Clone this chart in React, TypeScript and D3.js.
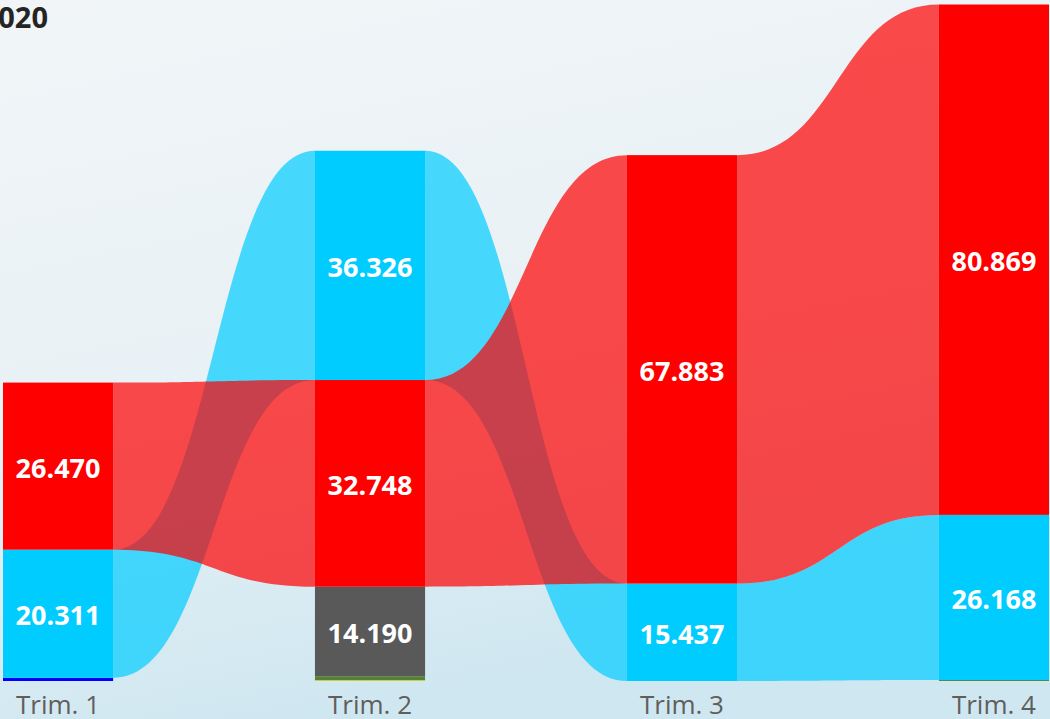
import React from "react";
import * as d3 from "d3";

const categories = ["Trim. 1", "Trim. 2", "Trim. 3", "Trim. 4"];
const rossoValues: (number | null)[] = [26470, 32748, 67883, 80869];
const azzurroValues: (number | null)[] = [20311, 36326, 15437, 26168];
const grigioValues: (number | null)[] = [null, 14190, null, null];
const bluValues: (number | null)[] = [500, null, null, null];
const verdeValues: (number | null)[] = [null, 600, null, 150];
const gialloValues: (number | null)[] = [null, 150, null, null];

const seriesNames = ["Azzurro", "Grigio", "Blu", "Verde", "Giallo", "Rosso"];
const seriesColors = ["#00ccff", "#595959", "#0000ff", "#548235", "#d6cc4a", "#ff0000"];
const seriesValues = [azzurroValues, grigioValues, bluValues, verdeValues, gialloValues, rossoValues];

const titleText = "2020";

const W = 1050;
const H = 719;

const fmt = d3.formatLocale({ decimal: ",", thousands: ".", grouping: [3], currency: ["€", ""] }).format(",");

export default function App() {
  const x = d3.scaleBand<string>().domain(categories).range([3, 1049]).paddingInner(0.647).paddingOuter(0);
  const y = d3.scaleLinear().domain([0, 107900]).range([681, 0]);
  const bw = x.bandwidth();

  type Seg = { s: number; v: number; y0: number; y1: number };
  const stacks: Map<number, Seg>[] = categories.map((_, ci) => {
    const items = seriesValues
      .map((vals, s) => ({ s, v: vals[ci] }))
      .filter((d) => d.v != null && (d.v as number) > 0) as { s: number; v: number }[];
    items.sort((a, b) => a.v - b.v);
    let acc = 0;
    const m = new Map<number, Seg>();
    items.forEach((it) => {
      const y0 = y(acc);
      acc += it.v;
      const y1 = y(acc);
      m.set(it.s, { s: it.s, v: it.v, y0, y1 });
    });
    return m;
  });

  const ribbons: { d: string; color: string; key: string }[] = [];
  seriesValues.forEach((_, s) => {
    for (let ci = 0; ci < categories.length - 1; ci++) {
      const a = stacks[ci].get(s);
      const b = stacks[ci + 1].get(s);
      if (!a || !b) continue;
      const x0 = (x(categories[ci]) as number) + bw;
      const x1 = x(categories[ci + 1]) as number;
      const xm = (x0 + x1) / 2;
      const d = `M${x0},${a.y1} C${xm},${a.y1} ${xm},${b.y1} ${x1},${b.y1} L${x1},${b.y0} C${xm},${b.y0} ${xm},${a.y0} ${x0},${a.y0} Z`;
      ribbons.push({ d, color: seriesColors[s], key: `r-${s}-${ci}` });
    }
  });

  const font = "'Open Sans', 'Noto Sans', sans-serif";

  return (
    <svg width={W} height={H} style={{ position: "absolute", left: 0, top: 0, display: "block" }}>
      <defs>
        <linearGradient id="bg" x1="0" y1="0" x2="0.3" y2="1">
          <stop offset="0" stopColor="#f1f5f8" />
          <stop offset="0.55" stopColor="#e8f1f5" />
          <stop offset="1" stopColor="#cfe7f1" />
        </linearGradient>
      </defs>
      <rect x={0} y={0} width={W} height={H} fill="url(#bg)" />
      <text x={48} y={28} textAnchor="end" fontFamily={font} fontWeight={700} fontSize={29} fill="#252423">
        {titleText}
      </text>
      <g>
        {ribbons.map((r) => (
          <path key={r.key} d={r.d} fill={r.color} fillOpacity={0.7} />
        ))}
      </g>
      <g>
        {categories.map((c, ci) =>
          Array.from(stacks[ci].values()).map((seg) => (
            <rect
              key={`b-${ci}-${seg.s}`}
              x={x(c)}
              y={seg.y1}
              width={bw}
              height={Math.max(0, seg.y0 - seg.y1)}
              fill={seriesColors[seg.s]}
            />
          ))
        )}
      </g>
      <g>
        {categories.map((c, ci) =>
          Array.from(stacks[ci].values())
            .filter((seg) => seg.y0 - seg.y1 > 30)
            .map((seg) => (
              <text
                key={`l-${ci}-${seg.s}`}
                x={(x(c) as number) + bw / 2}
                y={(seg.y0 + seg.y1) / 2 + 2}
                dy="0.36em"
                textAnchor="middle"
                fontFamily={font}
                fontWeight={700}
                fontSize={27}
                fill="#ffffff"
              >
                {fmt(seg.v)}
              </text>
            ))
        )}
      </g>
      <g>
        {categories.map((c) => (
          <text
            key={`a-${c}`}
            x={(x(c) as number) + bw / 2}
            y={714}
            textAnchor="middle"
            fontFamily={font}
            fontSize={26}
            fill="#605e5c"
          >
            {c}
          </text>
        ))}
      </g>
    </svg>
  );
}
